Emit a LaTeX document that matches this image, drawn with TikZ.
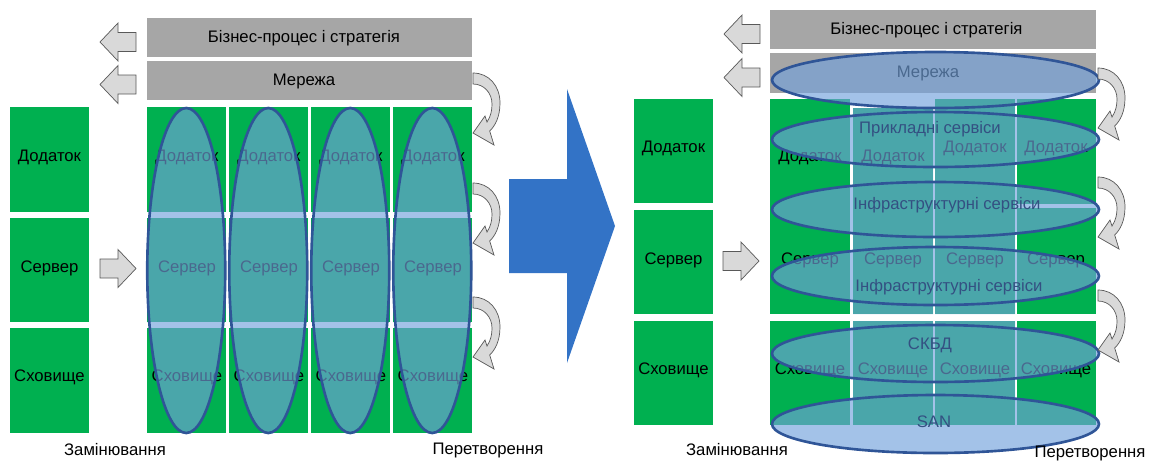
\documentclass[tikz,border=0pt]{standalone}
\usepackage{fontspec}
\setmainfont{Liberation Sans}
\usepackage{tikz}

\definecolor{bargray}{RGB}{166,166,166}
\definecolor{cellgreen}{RGB}{0,176,80}
\definecolor{veilfill}{RGB}{114,161,219}
\definecolor{veiledge}{RGB}{47,85,151}
\definecolor{veiltext}{RGB}{52,80,130}
\definecolor{bigblue}{RGB}{51,115,198}
\definecolor{arrowfill}{RGB}{217,217,217}
\definecolor{arrowedge}{RGB}{89,89,89}

\tikzset{
  bar/.style={fill=bargray},
  cell/.style={fill=cellgreen},
  veil/.style={fill=veilfill, fill opacity=0.65},
  rim/.style={draw=veiledge, line width=1.5pt},
  ring/.style={veil, rim},
  blockarrow/.style={fill=arrowfill, draw=arrowedge, line width=0.4pt},
  toleft/.pic={\filldraw [blockarrow] (0,0) -- ++(18,-19) -- ++(0,9.5) -- ++(18,0) -- ++(0,19) -- ++(-18,0) -- ++(0,9.5) -- cycle;},
  toright/.pic={\filldraw [blockarrow] (0,0) -- ++(-18,-19) -- ++(0,9.5) -- ++(-18,0) -- ++(0,19) -- ++(18,0) -- ++(0,9.5) -- cycle;},
  bendarrow/.pic={\filldraw [blockarrow] (0,0) .. controls (16,0) and (27,13) .. (27,30) .. controls (27,44) and (22,53) .. (16.7,58) -- (21,72) -- (0,60) -- (12,43) -- (14,49) .. controls (18,43) and (19,37) .. (19,31) .. controls (19,20) and (11,11) .. (0,11) -- cycle;}
}

\begin{document}
\begin{tikzpicture}[x=0.02cm,y=-0.02cm,font=\fontsize{9.5}{11}\selectfont]
	\tikzstyle{every node}+=[inner sep=0pt]
	\useasboundingbox (0,0) rectangle (1149,461);
	% left half
	\fill [bar] (147,18) rectangle (472,57);
	\draw (304,38) node (bizL) {Бізнес-процес і стратегія};
	\fill [bar] (147,61) rectangle (472,100);
	\draw (304,81) node (netL) {Мережа};
	\pic at (100,42) {toleft};
	\pic at (100,84.5) {toleft};
	\pic at (136,268.5) {toright};
	\fill [cell] (10,107) rectangle (89,212);
	\draw (49.5,157) node (appL) {Додаток};
	\fill [cell] (10,218) rectangle (89,322);
	\draw (49.5,268) node (srvL) {Сервер};
	\fill [cell] (10,328) rectangle (89,433);
	\draw (49.5,377) node (stoL) {Сховище};
	\foreach \c in {0,...,3} {
		\fill [cell] ({147+82*\c},107) rectangle ++(78.5,105);
		\fill [cell] ({147+82*\c},218) rectangle ++(78.5,104);
		\fill [cell] ({147+82*\c},328) rectangle ++(78.5,105);
		\draw ({187+82*\c},157) node (appA\c) {Додаток};
		\draw ({187+82*\c},268) node (srvA\c) {Сервер};
		\draw ({187+82*\c},377) node (stoA\c) {Сховище};
	}
	\foreach \c in {0,...,3}
		\draw [ring] ({186.25+82*\c},270.5) ellipse (39 and 162.5);
	\pic at (473,73) {bendarrow};
	\pic at (473,183) {bendarrow};
	\pic at (473,297) {bendarrow};
	\draw (115,450) node (swapL) {Замінювання};
	\draw (488,450) node (turnL) {Перетворення};
	% big arrow
	\fill [bigblue] (509,179) -- (567,179) -- (567,89) -- (615,226) -- (567,363) -- (567,273) -- (509,273) -- cycle;
	% right half
	\fill [bar] (770,10) rectangle (1096,49);
	\draw (926.5,30) node (bizR) {Бізнес-процес і стратегія};
	\fill [bar] (770,53) rectangle (1096,93);
	\draw (928,73) node (netR) {Мережа};
	\pic at (724,34) {toleft};
	\pic at (724,77.5) {toleft};
	\pic at (759,261) {toright};
	\fill [cell] (634,99) rectangle (713,203);
	\draw (673.5,148) node (appR) {Додаток};
	\fill [cell] (634,210) rectangle (713,314);
	\draw (673.5,260) node (srvR) {Сервер};
	\fill [cell] (634,321) rectangle (713,425);
	\draw (673.5,370) node (stoR) {Сховище};
	\fill [cell] (770,99) rectangle (850,314);
	\fill [cell] (853,108) rectangle (933,314);
	\fill [cell] (935,99) rectangle (1015,314);
	\fill [cell] (1017,99) rectangle (1096,204);
	\fill [cell] (1017,208) rectangle (1096,314);
	\foreach \x in {770,853,935} \fill [cell] (\x,321) rectangle ++(80,104);
	\fill [cell] (1017,321) rectangle (1096,425);
	\draw (810,157) node (appB1) {Додаток};
	\draw (893,157) node (appB2) {Додаток};
	\draw (975,148) node (appB3) {Додаток};
	\draw (1056,148) node (appB4) {Додаток};
	\foreach \x [count=\i] in {810,893,975,1056} {
		\draw (\x,260) node (srvB\i) {Сервер};
		\draw (\x,370) node (stoB\i) {Сховище};
	}
	\begin{scope}[transparency group, opacity=0.65]
		\fill [veilfill] (853,108) rectangle (933,314);
		\fill [veilfill] (935,99) rectangle (1015,314);
		\fill [veilfill] (853,321) rectangle (933,425);
		\fill [veilfill] (935,321) rectangle (1015,425);
		\foreach \y/\r in {80/28,139.5/27.5,209.5/27.5,276/29,353.5/28.5,424/29}
			\fill [veilfill] (935.5,\y) ellipse (163.5 and \r);
	\end{scope}
	\foreach \y/\r in {80/28,139.5/27.5,209.5/27.5,276/29,353.5/28.5,424/29}
		\draw [rim] (935.5,\y) ellipse (163.5 and \r);
	\draw [veiltext] (930,129) node (apps) {Прикладні сервіси};
	\draw [veiltext] (947,205) node (infraA) {Інфраструктурні сервіси};
	\draw [veiltext] (949,287) node (infraB) {Інфраструктурні сервіси};
	\draw [veiltext] (930,345) node (dbms) {СКБД};
	\draw [veiltext] (934,422) node (san) {SAN};
	\pic at (1098,68) {bendarrow};
	\pic at (1098,177) {bendarrow};
	\pic at (1098,290) {bendarrow};
	\draw (737,450) node (swapR) {Замінювання};
	\draw (1090,453) node (turnR) {Перетворення};
\end{tikzpicture}
\end{document}
